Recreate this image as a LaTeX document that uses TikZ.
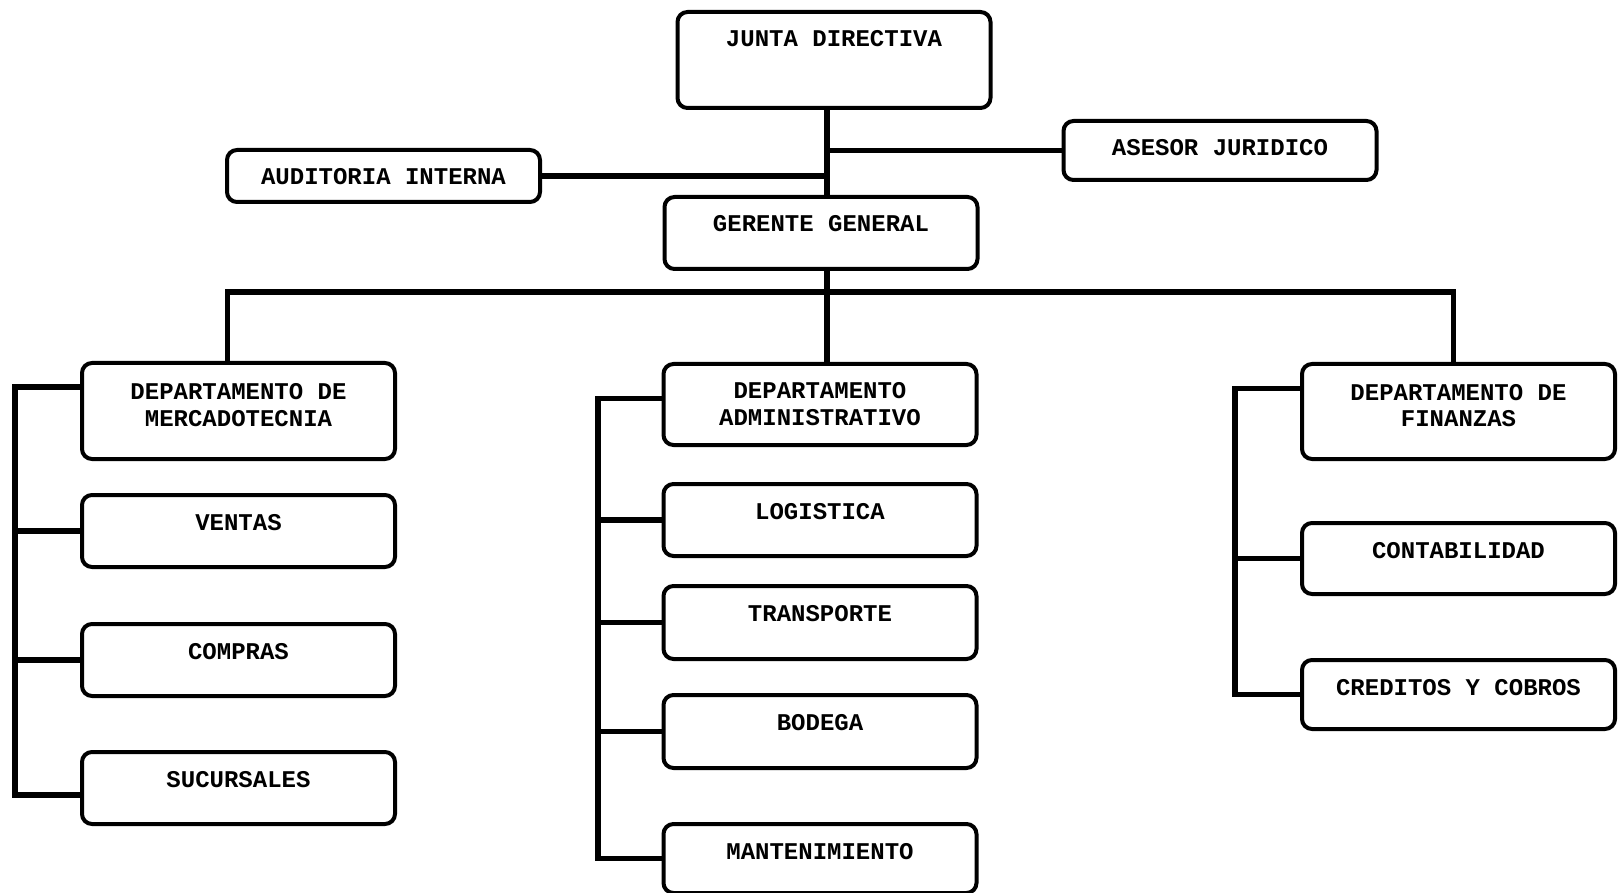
\documentclass[tikz,border=0pt]{standalone}
\usepackage{fontspec}
\setmainfont{Liberation Mono}
\usepackage{tikz}
\tikzset{
  caja/.style={draw=black, line width=4pt, rounded corners=10pt, fill=white,
    anchor=north, minimum width=313pt, inner xsep=0pt, inner ysep=0pt,
    font=\fontsize{24}{27}\selectfont\bfseries, text=black},
  una/.style={text height=35pt, text depth=#1},
  dos/.style={align=center, minimum height=#1},
  linea/.style={draw=black, line width=5.5pt},
}

\begin{document}
\begin{tikzpicture}[x=1pt,y=-1pt]
  \useasboundingbox (0,0) rectangle (1618,893);
  \coordinate (eje) at (827,0);
  \coordinate (bus) at (827,292);
  \coordinate (rm) at (15,0);
  \coordinate (ra) at (598,0);
  \coordinate (rf) at (1235,0);
  % direccion
  \node[caja,una=61pt] (junta) at (834,10) {JUNTA DIRECTIVA};
  \node[caja,una=17pt] (auditoria) at (383.5,148) {AUDITORIA INTERNA};
  \node[caja,una=24pt] (asesor) at (1220,119) {ASESOR JURIDICO};
  \node[caja,una=37pt] (gerente) at (821,195) {GERENTE GENERAL};
  % departamentos
  \node[caja,dos=96pt,text height=63pt,text depth=33pt] (mkt) at (238.5,361) {DEPARTAMENTO DE\\MERCADOTECNIA};
  \node[caja,dos=81pt] (adm) at (820,362) {DEPARTAMENTO\\ADMINISTRATIVO};
  \node[caja,dos=95pt,text height=63pt,text depth=32pt] (fin) at (1458.5,362) {DEPARTAMENTO DE\\FINANZAS};
  % mercadotecnia
  \node[caja,una=37pt] (ventas) at (238.5,493) {VENTAS};
  \node[caja,una=37pt] (compras) at (238.5,622) {COMPRAS};
  \node[caja,una=37pt] (sucursales) at (238.5,750) {SUCURSALES};
  % administrativo
  \node[caja,una=37pt] (logistica) at (820,482) {LOGISTICA};
  \node[caja,una=38pt] (transporte) at (820,584) {TRANSPORTE};
  \node[caja,una=38pt] (bodega) at (820,693) {BODEGA};
  \node[caja,una=34pt] (mant) at (820,822) {MANTENIMIENTO};
  % finanzas
  \node[caja,una=36pt] (contab) at (1458.5,521) {CONTABILIDAD};
  \node[caja,una=34pt] (creditos) at (1458.5,658) {CREDITOS Y COBROS};

  \coordinate (suc) at ([yshift=-7pt]sucursales.west);

  \draw[linea] (eje |- junta.south) -- (eje |- gerente.north);
  \draw[linea] (asesor.west) -- (asesor.west -| eje);
  \draw[linea] (auditoria.east) -- (auditoria.east -| eje);
  \draw[linea] (eje |- gerente.south) -- (eje |- adm.north);
  \draw[linea] ([xshift=-11pt]mkt.north) |- (bus) -| ([xshift=-5pt]fin.north);

  \draw[linea] ([yshift=24pt]mkt.west) -| (rm |- suc) -- (suc);
  \foreach \n in {ventas,compras}
    \draw[linea] (\n.west) -- (rm |- \n.west);

  \draw[linea] ([yshift=6pt]adm.west) -| (ra |- mant.west) -- (mant.west);
  \foreach \n in {logistica,transporte,bodega}
    \draw[linea] (\n.west) -- (ra |- \n.west);

  \draw[linea] ([yshift=23pt]fin.west) -| (rf |- creditos.west) -- (creditos.west);
  \draw[linea] (contab.west) -- (rf |- contab.west);
\end{tikzpicture}
\end{document}
